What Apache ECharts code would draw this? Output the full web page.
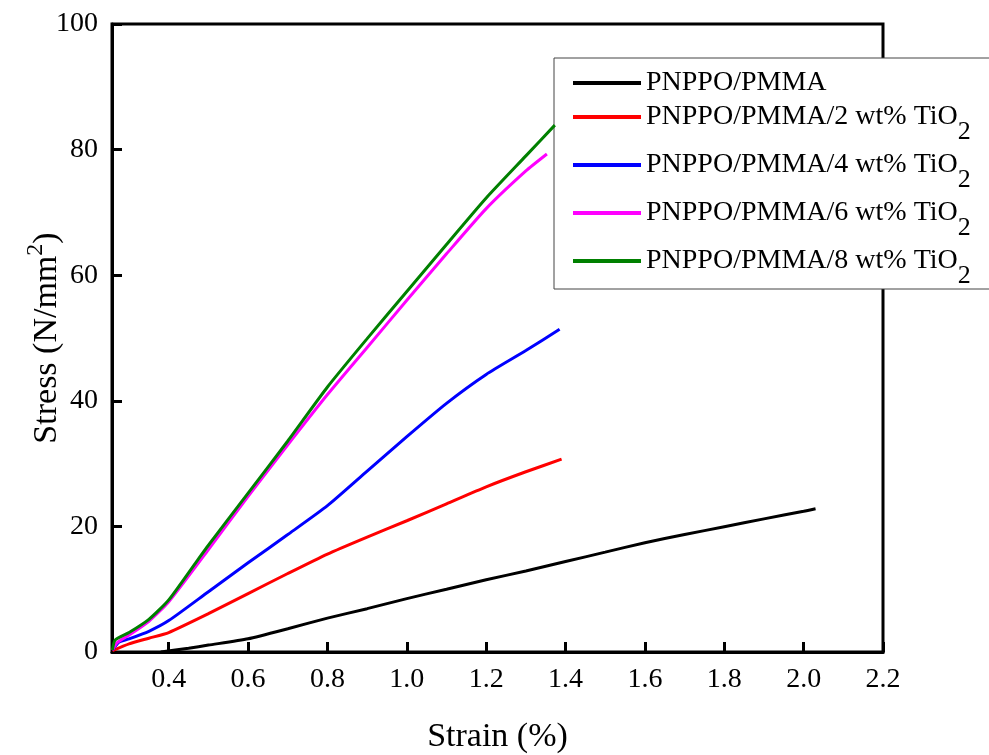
<!DOCTYPE html>
<html>
<head>
<meta charset="utf-8">
<script src="https://cdn.jsdelivr.net/npm/echarts@6/dist/echarts.min.js"></script>
<style>html,body{margin:0;padding:0;background:#fff}#c{width:989px;height:755px}</style>
</head>
<body>
<div id="c"></div>
<script>
var seriesNames = ['PNPPO/PMMA', 'PNPPO/PMMA/2 wt% TiO2', 'PNPPO/PMMA/4 wt% TiO2', 'PNPPO/PMMA/6 wt% TiO2', 'PNPPO/PMMA/8 wt% TiO2'];
var xTickValues = [0.4, 0.6, 0.8, 1.0, 1.2, 1.4, 1.6, 1.8, 2.0, 2.2];

var strain0 = [0.38, 0.45, 0.5, 0.6, 0.7, 0.8, 0.9, 1.0, 1.1, 1.2, 1.3, 1.4, 1.5, 1.6, 1.7, 1.8, 1.9, 2.0, 2.03];
var stress0 = [0, 0.6, 1.1, 2.1, 3.7, 5.4, 6.9, 8.5, 10.0, 11.5, 12.9, 14.4, 15.9, 17.4, 18.7, 19.95, 21.2, 22.4, 22.8];

var strain2 = [0.258, 0.3, 0.35, 0.4, 0.5, 0.6, 0.7, 0.8, 0.9, 1.0, 1.1, 1.2, 1.3, 1.39];
var stress2 = [0.2, 1.3, 2.2, 3.1, 6.1, 9.3, 12.5, 15.6, 18.3, 20.9, 23.6, 26.3, 28.7, 30.7];

var strain4 = [0.258, 0.275, 0.3, 0.35, 0.4, 0.5, 0.6, 0.7, 0.8, 0.9, 1.0, 1.1, 1.2, 1.3, 1.385];
var stress4 = [0.3, 1.6, 2.1, 3.3, 5.0, 9.6, 14.2, 18.7, 23.3, 28.8, 34.3, 39.6, 44.2, 48.0, 51.4];

var strain6 = [0.258, 0.27, 0.3, 0.35, 0.4, 0.5, 0.6, 0.7, 0.8, 0.9, 1.0, 1.1, 1.2, 1.3, 1.353];
var stress6 = [0.3, 1.5, 2.7, 4.9, 8.0, 16.3, 24.8, 33.0, 41.0, 48.5, 56.0, 63.4, 70.6, 76.6, 79.3];

var strain8 = [0.258, 0.265, 0.3, 0.35, 0.4, 0.47, 0.5, 0.6, 0.7, 0.8, 0.9, 1.0, 1.1, 1.2, 1.3, 1.373];
var stress8 = [0.3, 1.9, 3.1, 5.2, 8.3, 14.4, 17.0, 25.3, 33.6, 42.2, 49.9, 57.4, 64.9, 72.3, 79.0, 83.9];

var colors = ['#000000', '#ff0000', '#0000ff', '#ff00ff', '#008000'];
var strains = [strain0, strain2, strain4, strain6, strain8];
var stresses = [stress0, stress2, stress4, stress6, stress8];

function pairs(xs, ys) { return xs.map(function (x, i) { return [x, ys[i]]; }); }

var FONT = "'Liberation Serif', 'Times New Roman', serif";

var series = seriesNames.map(function (n, i) {
  return {
    name: n, type: 'line', data: pairs(strains[i], stresses[i]),
    showSymbol: false, symbol: 'none', smooth: 0.2,
    lineStyle: { color: colors[i], width: 3 }, itemStyle: { color: colors[i] },
    z: 2 + i
  };
});

var chart = echarts.init(document.getElementById('c'), null, { renderer: 'canvas' });
chart.setOption({
  backgroundColor: '#fff',
  animation: false,
  grid: { left: 112, right: 106, top: 24, bottom: 103, containLabel: false, outerBoundsMode: 'none',
    show: true, borderColor: '#000', borderWidth: 3, backgroundColor: 'transparent' },
  legend: {
    orient: 'vertical', left: 554, top: 58,
    padding: [11, 60, 0, 19],
    itemGap: -8, itemWidth: 68, itemHeight: 4, icon: 'rect',
    backgroundColor: '#fff', borderColor: '#444', borderWidth: 1,
    data: seriesNames,
    formatter: function (n) {
      if (n.slice(-4) === 'TiO2') return '{a|' + n.slice(0, -1) + '}{b|2}';
      return n;
    },
    textStyle: {
      fontFamily: FONT, fontSize: 28, color: '#000', lineHeight: 28,
      rich: {
        a: { fontFamily: FONT, fontSize: 28, color: '#000', lineHeight: 56, verticalAlign: 'middle' },
        b: { fontFamily: FONT, fontSize: 26, color: '#000', lineHeight: 56, padding: [30, 0, 0, 0], verticalAlign: 'top' }
      }
    }
  },
  xAxis: {
    type: 'value', min: 0.257, max: 2.2,
    name: 'Strain (%)', nameLocation: 'middle', nameGap: 68,
    nameTextStyle: { fontFamily: FONT, fontSize: 34, color: '#000' },
    axisLine: { show: true, lineStyle: { color: '#000', width: 3 } },
    axisTick: { show: true, inside: true, length: 10, lineStyle: { color: '#000', width: 3 }, customValues: xTickValues },
    axisLabel: { fontFamily: FONT, fontSize: 28, color: '#000', margin: 14, customValues: xTickValues,
      formatter: function (v) { return v.toFixed(1); } },
    splitLine: { show: false }
  },
  yAxis: {
    type: 'value', min: 0, max: 100, interval: 20,
    name: '{a|Stress (N/mm}{b|2}{a|)}', nameLocation: 'middle', nameGap: 52, nameRotate: 90,
    nameMoveOverlap: false,
    nameTextStyle: {
      fontFamily: FONT, fontSize: 34, color: '#000',
      rich: {
        a: { fontFamily: FONT, fontSize: 34, color: '#000', lineHeight: 36, padding: [6, 0, 0, 0], verticalAlign: 'top' },
        b: { fontFamily: FONT, fontSize: 24, color: '#000', lineHeight: 22, verticalAlign: 'top' }
      }
    },
    axisLine: { show: true, lineStyle: { color: '#000', width: 3 } },
    axisTick: { show: true, inside: true, length: 10, lineStyle: { color: '#000', width: 3 } },
    axisLabel: { fontFamily: FONT, fontSize: 28, color: '#000', margin: 14 },
    splitLine: { show: false }
  },
  series: series
});
</script>
</body>
</html>
